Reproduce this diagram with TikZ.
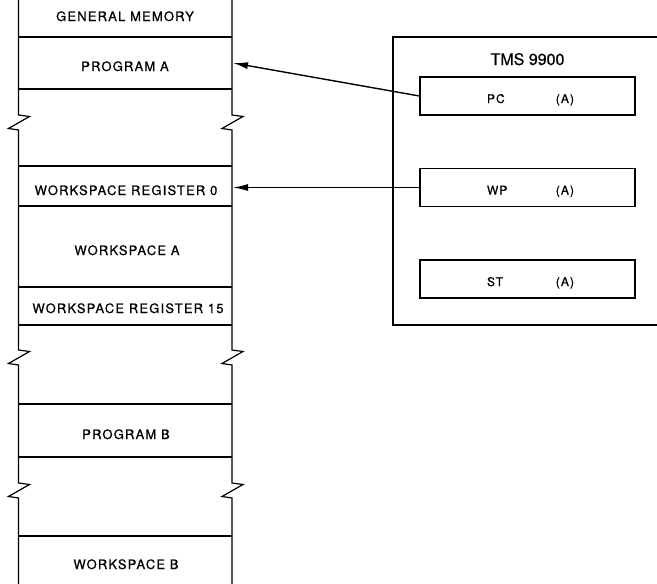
\documentclass[tikz,border=0pt]{standalone}
\usepackage{fontspec}
\usetikzlibrary{arrows.meta,positioning}
\newfontfamily\memfont{TeX Gyre Heros}[LetterSpace=9,FakeBold=0.7]
\newfontfamily\chipfont{TeX Gyre Heros}[FakeBold=0.5]
\begin{document}
\begin{tikzpicture}[x=1pt, y=-1pt, line width=1.2pt, node distance=91.5pt,
    memtext/.style={anchor=base, inner sep=0pt, font=\memfont\fontsize{13}{13}\selectfont},
    regbox/.style={draw, minimum width=215pt, minimum height=38pt, inner sep=0pt,
      text height=16pt, text depth=2pt, font=\memfont\fontsize{12}{12}\selectfont},
    ptr/.style={-{Latex[length=15pt,width=7pt]}, line width=1.4pt}]
    \useasboundingbox (0,0) rectangle (657,584);
    % general memory column, with breaks
    \foreach \x in {18.5,232}
      \draw (\x,0) foreach \yc in {122.5,357.5,490.5} {-- (\x,\yc-7.5) -- (\x+11,\yc-6) -- (\x-10,\yc+6) -- (\x,\yc+7.5)} -- (\x,584);
    \foreach \y in {37,89,166,206,287,325,404,457,536}
      \draw (18.5,\y) -- (232,\y);
    \node (genmem) [memtext] at (125,21) {GENERAL MEMORY};
    \node (proga) [memtext] at (125,71) {PROGRAM A};
    \node (wreg0) [memtext] at (126,195) {WORKSPACE REGISTER 0};
    \node (wspa) [memtext] at (127,255) {WORKSPACE A};
    \node (wreg15) [memtext] at (128,313) {WORKSPACE REGISTER 15};
    \node (progb) [memtext] at (126,439) {PROGRAM B};
    \node (wspb) [memtext] at (126,569) {WORKSPACE B};
    % processor
    \draw (657,37) -- (393,37) -- (393,325) -- (657,325);
    \node (chip) [anchor=base, inner sep=0pt, font=\chipfont\fontsize{16}{16}\selectfont] at (527.5,65) {TMS 9900};
    \node (pc) [regbox] at (527.5,96) {\hbox to 93pt{\hspace{6pt}PC\hfill(A)}};
    \node (wp) [regbox, below of=pc] {\hbox to 93pt{\hspace{6pt}WP\hfill(A)}};
    \node (st) [regbox, below of=wp] {\hbox to 93pt{\hspace{6pt}ST\hfill(A)}};
    \coordinate (pcend) at (233,63);
    \coordinate (wpend) at (233,187.5);
    \draw[ptr] (pc.west) -- (pcend);
    \draw[ptr] (wp.west) -- (wpend);
  \end{tikzpicture}
\end{document}
